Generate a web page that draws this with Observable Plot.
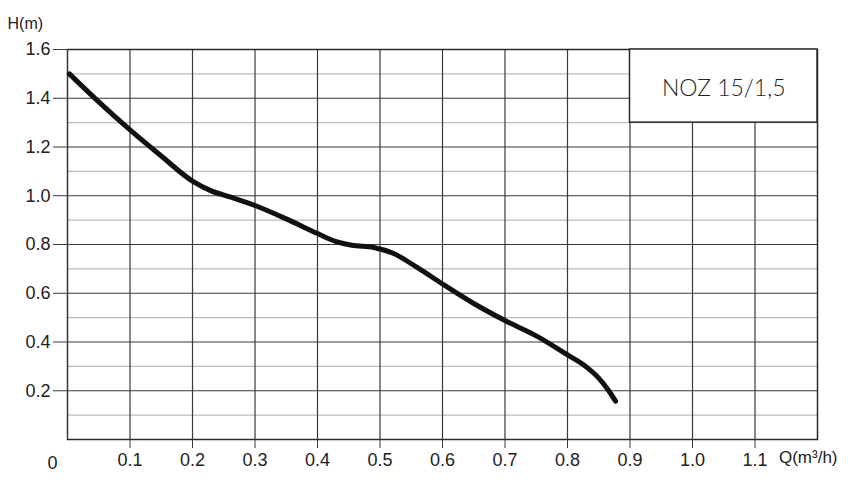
<!DOCTYPE html>
<html>
<head>
<meta charset="utf-8">
<script src="https://cdn.jsdelivr.net/npm/d3@7"></script>
<script src="https://cdn.jsdelivr.net/npm/@observablehq/plot@0.6"></script>
<style>
  html, body { margin: 0; padding: 0; background: #fff; }
  #chart svg { display: block; }
</style>
</head>
<body>
<div id="chart"></div>
<script>
// Pump curve NOZ 15/1,5 : flow Q (m3/h) vs head H (m)
const flowQ = [0.003, 0.05, 0.1, 0.15, 0.2, 0.23, 0.26, 0.3, 0.35, 0.4, 0.43, 0.455, 0.49, 0.52, 0.56, 0.6, 0.65, 0.7, 0.75, 0.8, 0.831, 0.85, 0.866, 0.877];
const headH = [1.50, 1.385, 1.27, 1.163, 1.06, 1.02, 0.995, 0.96, 0.905, 0.845, 0.812, 0.797, 0.788, 0.765, 0.705, 0.638, 0.558, 0.488, 0.425, 0.347, 0.296, 0.252, 0.20, 0.157];

const xTicks = [0.1, 0.2, 0.3, 0.4, 0.5, 0.6, 0.7, 0.8, 0.9, 1.0, 1.1];
const yTicks = [0.2, 0.4, 0.6, 0.8, 1.0, 1.2, 1.4, 1.6];
const yMinor = [0.1, 0.3, 0.5, 0.7, 0.9, 1.1, 1.3, 1.5];
const xGrid = [0.1, 0.2, 0.3, 0.4, 0.5, 0.6, 0.7, 0.8, 0.9, 1.0, 1.1];
const modelName = "NOZ 15/1,5";
const xTitle = "Q(m³/h)";
const yTitle = "H(m)";

const curve = flowQ.map((q, i) => ({q, h: headH[i]}));

const chart = Plot.plot({
  width: 848,
  height: 486,
  marginLeft: 67,
  marginRight: 31,
  marginTop: 49,
  marginBottom: 47,
  style: {fontFamily: "Arimo, 'Liberation Sans', Arial, sans-serif", fontSize: "18px", color: "#222", background: "#fff"},
  x: {domain: [0, 1.2]},
  y: {domain: [0, 1.6]},
  marks: [
    Plot.ruleY(yMinor, {stroke: "#bdbdbd", strokeWidth: 1.2}),
    Plot.ruleY(yTicks, {stroke: "#3a3a3a", strokeWidth: 1.2}),
    Plot.ruleX(xGrid, {stroke: "#3a3a3a", strokeWidth: 1.2}),
    Plot.frame({stroke: "#2a2a2a", strokeWidth: 1.5}),
    Plot.axisY({ticks: yTicks, tickSize: 14, tickPadding: 3, tickFormat: d3.format(".1f"), label: null, fontSize: 18, stroke: "#3a3a3a"}),
    Plot.axisX({ticks: xTicks, tickSize: 9, tickPadding: 5, tickFormat: d3.format(".1f"), label: null, fontSize: 18, stroke: "#3a3a3a"}),
    Plot.tickX([0], {y1: 0, y2: 0, stroke: "#3a3a3a"}),
    Plot.text(["0"], {x: 0, y: 0, dx: -15, dy: 24, fontSize: 18, fill: "#222"}),
    Plot.rect([{x1: 0.9, x2: 1.2, y1: 1.3, y2: 1.6}], {x1: "x1", x2: "x2", y1: "y1", y2: "y2", fill: "#fff", stroke: "#2a2a2a", strokeWidth: 1.5}),
    Plot.text([modelName], {x: 1.05, y: 1.45, dy: 3, fontSize: 23, fontWeight: 300, fontFamily: "Lato, 'Open Sans', sans-serif", fill: "#222"}),
    Plot.line(curve, {x: "q", y: "h", curve: "monotone-x", stroke: "#111", strokeWidth: 5, strokeLinejoin: "round"}),
    Plot.text([yTitle], {frameAnchor: "top-left", dx: -60, dy: -32, textAnchor: "start", fontSize: 16, fill: "#222"}),
    Plot.text([xTitle], {frameAnchor: "bottom-right", dx: 20, dy: 23, textAnchor: "end", fontSize: 17, fill: "#222"})
  ]
});
document.getElementById("chart").appendChild(chart);
</script>
</body>
</html>
